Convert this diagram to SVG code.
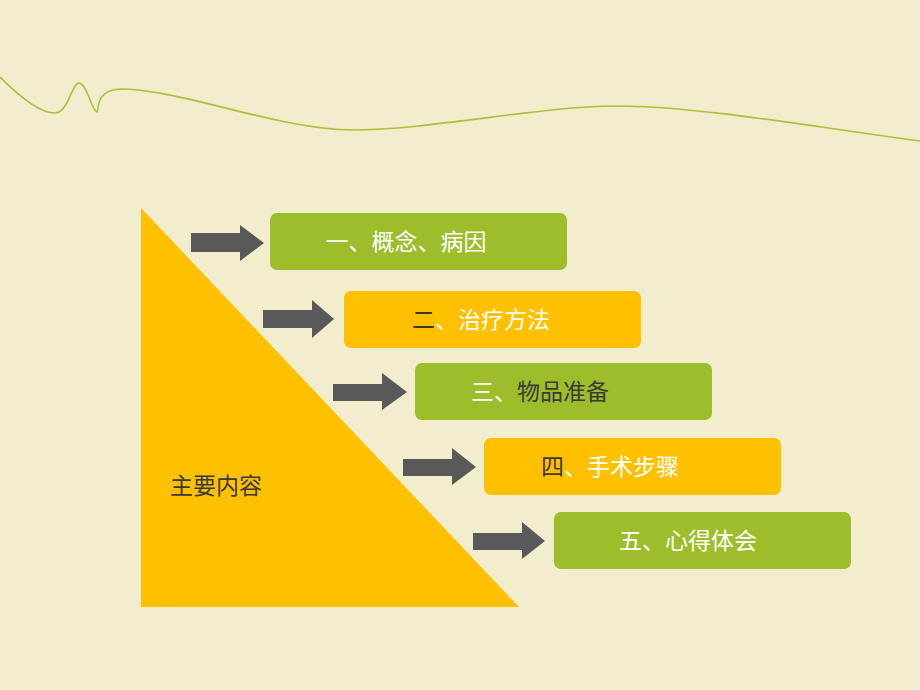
<svg xmlns="http://www.w3.org/2000/svg" width="920" height="690" viewBox="0 0 920 690">
<style>
.g{fill:#9DBD2B}
.o{fill:#FFC000}
.t{font-family:"Liberation Sans","Noto Sans CJK SC",sans-serif;font-size:23px;text-anchor:middle}
.w{fill:#FFFFFF}
.d{fill:#3A3A3A}
.arr{fill:#595959}
</style>
<rect width="920" height="690" fill="#F2EDCC"/>
<path d="M0,77 C18,95 40,113 55,113 C68,113 72,83 79,83 C87,83 92,112 97,112 C99,112 94,90 120,89 C180,89 280,130 352,130 C430,130 540,106 616,106 C700,106 820,128 920,141" fill="none" stroke="#A9C13B" stroke-width="1.6"/>
<g id="main">
<polygon class="o" points="141,208 141,607 519,607"/>
<text class="t d" x="216" y="494">主要内容</text>
</g>
<g id="connectors">
<polygon class="arr" points="191,233 240,233 240,225 264,243 240,261 240,252 191,252"/>
<polygon class="arr" points="263,310 312,310 312,300 334,319 312,338 312,328 263,328"/>
<polygon class="arr" points="333,384 382,384 382,373 407,392 382,410 382,401 333,401"/>
<polygon class="arr" points="403,459 452,459 452,448 476,467 452,485 452,476 403,476"/>
<polygon class="arr" points="473,533 522,533 522,522 545,541 522,559 522,550 473,550"/>
</g>
<g id="n1">
<rect class="g" x="270" y="213" width="297" height="57" rx="7"/>
<text class="t w" x="406" y="250">一、概念、病因</text>
</g>
<g id="n2">
<rect class="o" x="344" y="291" width="297" height="57" rx="7"/>
<text class="t" x="481" y="328"><tspan class="d">二</tspan><tspan class="w">、治疗方法</tspan></text>
</g>
<g id="n3">
<rect class="g" x="415" y="363" width="297" height="57" rx="7"/>
<text class="t" x="540" y="400"><tspan class="w">三、</tspan><tspan class="d">物品准备</tspan></text>
</g>
<g id="n4">
<rect class="o" x="484" y="438" width="297" height="57" rx="7"/>
<text class="t" x="610" y="475"><tspan class="d">四</tspan><tspan class="w">、手术步骤</tspan></text>
</g>
<g id="n5">
<rect class="g" x="554" y="512" width="297" height="57" rx="7"/>
<text class="t w" x="688" y="549">五、心得体会</text>
</g>
</svg>
